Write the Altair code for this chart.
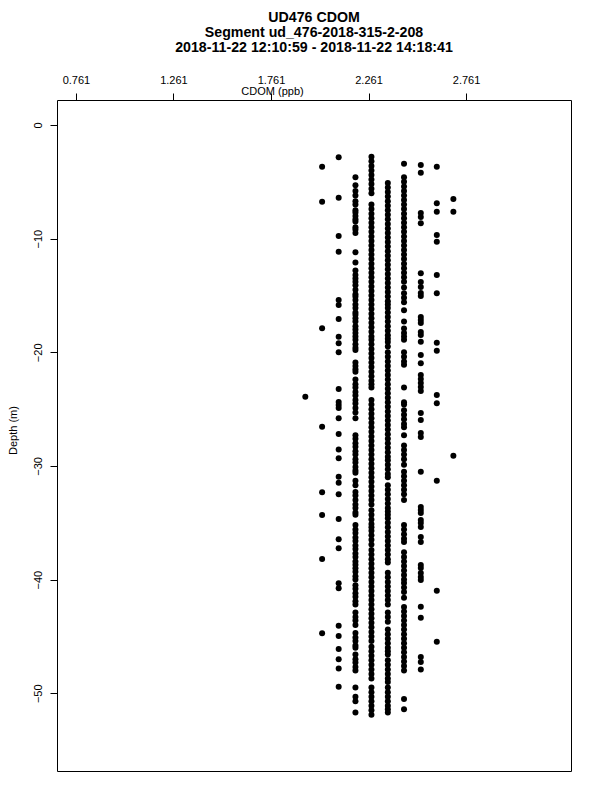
import altair as alt
import pandas as pd

# CDOM levels (ppb) of the vertical point columns
cdom_outlier = 1.937
cdom_a = 2.023
cdom_b = 2.108
cdom_c = 2.194
cdom_d = 2.276
cdom_e = 2.360
cdom_f = 2.443
cdom_g = 2.529
cdom_h = 2.611
cdom_i = 2.696

# depths (m) read for each column
depth_outlier = [-23.9]
depth_a = [-3.67, -6.75, -17.89, -26.54, -32.32, -34.31, -38.18, -44.72]
depth_b = [-2.84, -6.40, -9.77, -11.15, -15.40, -15.84, -17.07, -18.63, -19.21, -20.00,
           -23.23, -24.37, -24.63, -24.90, -25.80, -27.19, -28.55, -29.32, -30.94, -31.47,
           -32.49, -34.66, -36.45, -37.24, -40.32, -40.76, -44.05, -44.96, -46.10, -47.01,
           -47.83, -49.42]
depth_c = [-4.6, -5.3, -5.8, -6.2, -6.7, -7.0, -7.5, -7.7, -8.0, -8.3, -8.5, -9.0, -9.2, -9.5,
           -11.2, -12.1, -12.8, -13.2, -13.5, -13.8, -14.1, -14.5, -14.9, -15.1, -15.4, -15.8,
           -16.1, -16.5, -16.7, -17.0, -17.3, -17.7, -18.0, -18.3, -18.6, -18.9, -19.3, -19.6,
           -19.8, -20.9, -21.2, -21.5, -21.7, -22.4, -22.8, -23.1, -23.5, -23.8, -24.2, -24.5,
           -24.9, -25.3, -25.8, -27.3, -27.6, -28.0, -28.3, -28.7, -29.0, -29.4, -29.7, -30.1,
           -30.4, -30.6, -31.3, -31.7, -32.3, -32.6, -33.0, -33.4, -33.7, -34.1, -34.3, -35.2,
           -35.6, -35.9, -36.3, -36.6, -37.0, -37.3, -37.7, -38.0, -38.4, -38.7, -39.0, -39.3,
           -39.7, -40.0, -40.5, -40.8, -41.2, -41.5, -41.9, -42.2, -42.9, -43.3, -43.6, -44.0,
           -44.7, -45.1, -45.4, -45.8, -46.0, -46.6, -47.0, -47.3, -47.7, -48.0, -49.5, -50.3,
           -50.7, -51.7]
depth_d = [-2.8, -3.2, -3.6, -4.0, -4.4, -4.8, -5.2, -5.6, -6.0,
           -7.0, -7.4, -7.8, -8.2, -8.6, -9.0, -9.4, -9.8, -10.2, -10.6, -11.0, -11.4, -11.8,
           -12.2, -12.6, -13.0, -13.4, -13.8, -14.2, -14.6, -15.0, -15.4, -15.8, -16.2, -16.6,
           -17.0, -17.4, -17.8, -18.2, -18.6, -18.9,
           -19.3, -19.7, -20.1, -20.5, -20.9, -21.3, -21.7, -22.1, -22.5, -22.8, -23.1,
           -24.2, -24.6, -25.0, -25.4, -25.8, -26.2, -26.6, -27.0, -27.4, -27.8, -28.2, -28.6,
           -29.0, -29.4, -29.8, -30.2, -30.6, -31.0, -31.4, -31.8, -32.2, -32.6, -33.0, -33.4,
           -33.9, -34.3, -34.7, -35.1, -35.4,
           -35.7, -36.1, -36.5, -36.9,
           -37.4, -37.8, -38.2, -38.6, -39.0, -39.4, -39.8, -40.2, -40.6, -41.0, -41.4, -41.8,
           -42.2, -42.6, -43.0, -43.4, -43.8, -44.2, -44.6, -45.0, -45.4,
           -45.9, -46.3, -46.7, -47.1, -47.5, -47.9, -48.3, -48.7,
           -49.5, -49.9, -50.3, -50.7, -51.1, -51.5, -51.9]
depth_e = [-5.1, -5.5, -5.9, -6.3, -6.7, -7.1, -7.5, -7.9, -8.3, -8.7, -9.1, -9.5, -9.9, -10.3,
           -10.7, -11.1, -11.5, -11.9, -12.3, -12.7, -13.1, -13.5, -13.9, -14.3, -14.7, -15.1,
           -15.5, -15.8,
           -16.1, -16.5, -16.9, -17.3, -17.7, -18.1, -18.5, -18.8, -19.1,
           -19.5,
           -20.0, -20.4, -20.8, -21.2, -21.6, -22.0, -22.4, -22.8, -23.2, -23.6, -24.0, -24.4,
           -24.8, -25.2, -25.6, -26.0, -26.4, -26.8, -27.2, -27.6, -28.0, -28.4, -28.8, -29.2,
           -29.5,
           -29.9, -30.3, -30.7, -31.0,
           -31.7, -32.1, -32.5, -32.9, -33.3, -33.7, -34.0, -34.3,
           -34.6, -35.0, -35.4, -35.8, -36.2, -36.6, -37.0, -37.4, -37.8, -38.2, -38.5,
           -39.4, -39.8, -40.2, -40.6, -41.0, -41.4, -41.8, -42.2,
           -42.9, -43.3, -43.7,
           -44.4, -44.8, -45.2, -45.6, -46.0, -46.3, -46.6,
           -47.1, -47.5, -47.9, -48.3, -48.7, -49.0,
           -49.5, -49.9, -50.3, -50.7, -51.1, -51.4, -51.7]
depth_f = [-3.4,
           -4.6, -5.0, -5.4, -5.8, -6.2, -6.6, -7.0, -7.4, -7.8, -8.2, -8.6, -9.0, -9.4, -9.8,
           -10.2, -10.6, -11.0, -11.4, -11.8, -12.2, -12.6, -13.0, -13.4, -13.8, -14.3,
           -14.8, -15.2, -15.6,
           -16.3, -17.3,
           -17.9, -18.3, -18.6, -18.9,
           -20.0, -20.4, -20.8, -21.1,
           -23.1,
           -24.4, -24.6,
           -25.1, -25.5, -25.9, -26.3, -26.6,
           -27.3,
           -28.2, -28.6, -29.0, -29.4, -29.9,
           -30.5, -30.9, -31.3, -31.7, -32.1, -32.5, -33.0,
           -35.2, -35.6, -36.0, -36.4, -36.7,
           -37.6, -38.0, -38.4, -38.8, -39.2, -39.6, -40.0,
           -40.3, -40.7, -41.1, -41.6,
           -42.4, -42.8, -43.2, -43.6, -44.0, -44.4, -44.8, -45.2, -45.6, -46.0, -46.4, -46.8,
           -47.2, -47.6, -48.0,
           -50.5, -51.4]
depth_g = [-3.52, -4.20, -7.74, -8.10, -8.65, -13.05, -13.82, -14.26, -14.78, -15.05, -16.90,
           -17.16, -17.42, -18.22, -18.48, -19.07, -20.24, -20.97, -22.00, -22.35, -22.70,
           -23.06, -23.41, -25.34, -25.96, -27.10, -27.46, -30.51, -33.62, -33.88, -34.14,
           -34.76, -35.02, -35.38, -36.26, -36.70, -38.72, -38.98, -39.42, -39.78, -40.04,
           -42.39, -43.36, -46.82, -47.26, -47.90]
depth_h = [-3.67, -6.89, -7.63, -9.68, -10.27, -13.20, -14.81, -19.16, -19.86, -23.76, -24.49,
           -31.30, -40.98, -45.47]
depth_i = [-6.51, -7.63, -29.10]

x_ticks = [0.761, 1.261, 1.761, 2.261, 2.761]
y_ticks = [0, -10, -20, -30, -40, -50]

columns = [
    (cdom_outlier, depth_outlier), (cdom_a, depth_a), (cdom_b, depth_b), (cdom_c, depth_c),
    (cdom_d, depth_d), (cdom_e, depth_e), (cdom_f, depth_f), (cdom_g, depth_g),
    (cdom_h, depth_h), (cdom_i, depth_i),
]
rows = []
for c, ds in columns:
    for d in ds:
        rows.append({"cdom": c, "depth": d})
df = pd.DataFrame(rows)

FONT = "Liberation Sans"

chart = alt.Chart(df).mark_point(
    filled=True, shape="circle", size=36, color="black", opacity=1
).encode(
    x=alt.X("cdom:Q",
            scale=alt.Scale(domain=[0.664, 3.299], nice=False, zero=False),
            axis=alt.Axis(orient="top", values=x_ticks, format=".3f", title="CDOM (ppb)",
                          tickSize=7, labelPadding=8, domain=False, grid=False,
                          titleX=215, titleY=-9, titleAlign="center", titleBaseline="middle",
                          titleFontWeight="normal")),
    y=alt.Y("depth:Q",
            scale=alt.Scale(domain=[-56.84, 2.2], nice=False, zero=False),
            axis=alt.Axis(values=y_ticks, format="d", title="Depth (m)",
                          tickSize=7, labelPadding=7, labelAngle=-90, labelAlign="center",
                          labelBaseline="bottom", domain=False, grid=False,
                          titleX=-44, titleY=330, titleAngle=-90, titleAlign="center",
                          titleBaseline="middle", titleFontWeight="normal")),
).properties(
    width=514,
    height=671,
    title=alt.TitleParams(
        text=["UD476 CDOM", "Segment ud_476-2018-315-2-208",
              "2018-11-22 12:10:59 - 2018-11-22 14:18:41"],
        anchor="middle", fontSize=14.2, fontWeight="bold", font=FONT, color="black",
        lineHeight=15, offset=19,
    ),
    autosize=alt.AutoSizeParams(type="none"),
    padding={"left": 49, "top": 92, "right": 21, "bottom": 21},
).configure_view(
    stroke="black", strokeWidth=1
).configure_axis(
    labelFont=FONT, titleFont=FONT, labelFontSize=11, titleFontSize=11,
    labelColor="black", titleColor="black", tickColor="black", tickWidth=1,
)

chart.save("out.html", embed_options={"renderer": "svg", "actions": False})
